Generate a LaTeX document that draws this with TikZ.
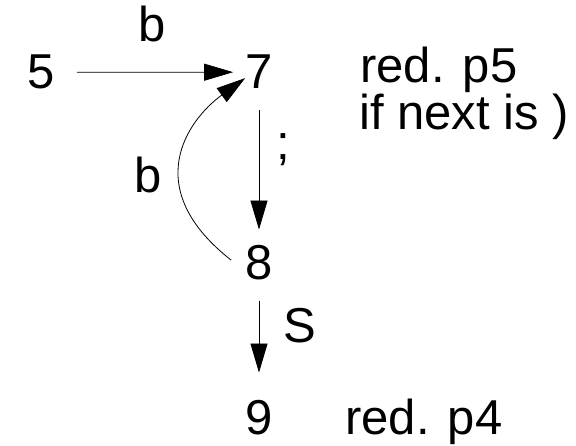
\documentclass[tikz,border=0pt]{standalone}
\usepackage{fontspec}
\setmainfont{Liberation Sans}
\usetikzlibrary{arrows.meta}
\tikzset{
  st/.style={inner sep=0pt,anchor=base,font=\fontsize{49}{59}\selectfont},
  lbl/.style={inner sep=0pt,anchor=base,font=\fontsize{49}{59}\selectfont},
  note/.style={inner sep=0pt,anchor=base west,font=\fontsize{49}{59}\selectfont},
  arr/.style={line width=0.8pt,-{Triangle[length=29pt,width=17pt]}}
}

\begin{document}
\begin{tikzpicture}[x=1pt,y=-1pt]
\useasboundingbox (0,0) rectangle (576,446);
\node[st] (n5) at (41,89) {5}; \node[st] (n7) at (259,89) {7};
\node[st] (n8) at (259,280) {8}; \node[st] (n9) at (259,435) {9};
\draw[arr,shorten <=22pt,shorten >=12pt] (n5) -- (n7); \node[lbl] (lb57) at (152,42) {b};
\draw[arr,shorten <=21pt,shorten >=16pt] (n7) -- (n8); \node[lbl] (lsemi) at (283,160) {;};
\draw[arr,shorten <=20pt,shorten >=28pt] (n8) -- (n9); \node[lbl] (lS) at (300,343) {S};
\draw[arr] ([xshift=-14pt,yshift=3pt]n8.west) .. controls +(-92,-72) and +(-58,42) .. ([yshift=-6pt]n7.west);
\node[lbl] (lb87) at (148,193) {b};
\node[note] (note7a) at (360,83) {red. p5};
\node[note] (note7b) at (359,130) {if next is )};
\node[note] (note9) at (345,435) {red. p4};
\end{tikzpicture}
\end{document}
